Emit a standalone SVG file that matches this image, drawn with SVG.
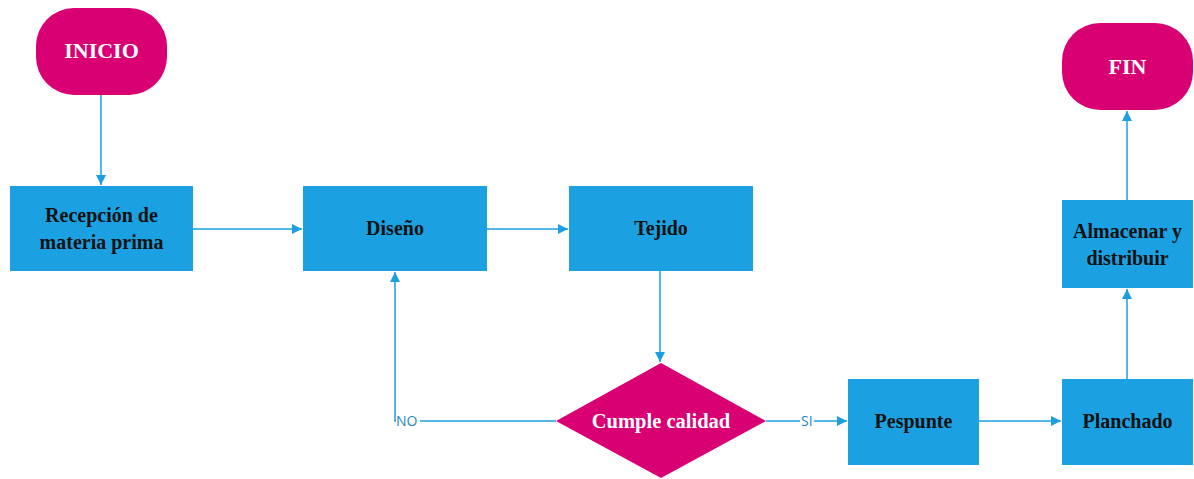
<svg xmlns="http://www.w3.org/2000/svg" width="1194" height="479" viewBox="0 0 1194 479">
  <defs>
    <marker id="arrow" viewBox="0 0 10 10" refX="10" refY="5" markerWidth="10" markerHeight="10" markerUnits="userSpaceOnUse" orient="auto">
      <path d="M0,0 L10,5 L0,10 Z" fill="#1b9fdf"/>
    </marker>
    <style>
      .box { fill: #1ba1e2; }
      .term { fill: #d80073; }
      .lbl { font-family: "Liberation Serif", "Times New Roman", serif; font-weight: bold; font-size: 20px; fill: #111; text-anchor: middle; }
      .wlbl { font-family: "Liberation Serif", "Times New Roman", serif; font-weight: bold; font-size: 22px; fill: #fff; text-anchor: middle; }
      .edge { stroke: #1b9fdf; stroke-width: 1.5; fill: none; }
      .elbl { font-family: "Open Sans", "Liberation Sans", sans-serif; font-size: 14px; fill: #1e88c4; }
    </style>
  </defs>
  <rect width="1194" height="479" fill="#ffffff"/>

  <g id="connectors">
    <line class="edge" x1="101" y1="95" x2="101" y2="185" marker-end="url(#arrow)"/>
    <line class="edge" x1="193" y1="229" x2="302" y2="229" marker-end="url(#arrow)"/>
    <line class="edge" x1="487" y1="229" x2="568" y2="229" marker-end="url(#arrow)"/>
    <line class="edge" x1="660" y1="271" x2="660" y2="362" marker-end="url(#arrow)"/>
    <polyline class="edge" points="556,421 420,421"/>
    <polyline class="edge" points="396,421 395,421 395,272" marker-end="url(#arrow)"/>
    <text class="elbl" x="396" y="426">NO</text>
    <line class="edge" x1="766" y1="421" x2="800" y2="421"/>
    <text class="elbl" x="801" y="426">SI</text>
    <line class="edge" x1="814" y1="421" x2="847" y2="421" marker-end="url(#arrow)"/>
    <line class="edge" x1="979" y1="421" x2="1061" y2="421" marker-end="url(#arrow)"/>
    <line class="edge" x1="1127" y1="379" x2="1127" y2="289" marker-end="url(#arrow)"/>
    <line class="edge" x1="1127" y1="200" x2="1127" y2="111" marker-end="url(#arrow)"/>
  </g>

  <g id="inicio">
    <rect class="term" x="36" y="8" width="131" height="87" rx="38" ry="38"/>
    <text class="wlbl" x="101.5" y="58">INICIO</text>
  </g>
  <g id="recepcion">
    <rect class="box" x="10" y="186" width="183" height="85"/>
    <text class="lbl" x="101.5" y="222">Recepción de</text>
    <text class="lbl" x="101.5" y="249">materia prima</text>
  </g>
  <g id="diseno">
    <rect class="box" x="303" y="186" width="184" height="85"/>
    <text class="lbl" x="395" y="235">Diseño</text>
  </g>
  <g id="tejido">
    <rect class="box" x="569" y="186" width="184" height="85"/>
    <text class="lbl" x="661" y="235">Tejido</text>
  </g>
  <g id="cumple-calidad">
    <polygon class="term" points="661,363 766,421 661,478 556,421"/>
    <text class="wlbl" x="661" y="428" style="font-size:20.5px">Cumple calidad</text>
  </g>
  <g id="pespunte">
    <rect class="box" x="848" y="379" width="131" height="86"/>
    <text class="lbl" x="913.5" y="428">Pespunte</text>
  </g>
  <g id="planchado">
    <rect class="box" x="1062" y="379" width="131" height="86"/>
    <text class="lbl" x="1127.5" y="428">Planchado</text>
  </g>
  <g id="almacenar">
    <rect class="box" x="1062" y="200" width="131" height="88"/>
    <text class="lbl" x="1127.5" y="238">Almacenar y</text>
    <text class="lbl" x="1127.5" y="265">distribuir</text>
  </g>
  <g id="fin">
    <rect class="term" x="1062" y="23" width="131" height="87" rx="38" ry="38"/>
    <text class="wlbl" x="1127.5" y="74">FIN</text>
  </g>
</svg>
